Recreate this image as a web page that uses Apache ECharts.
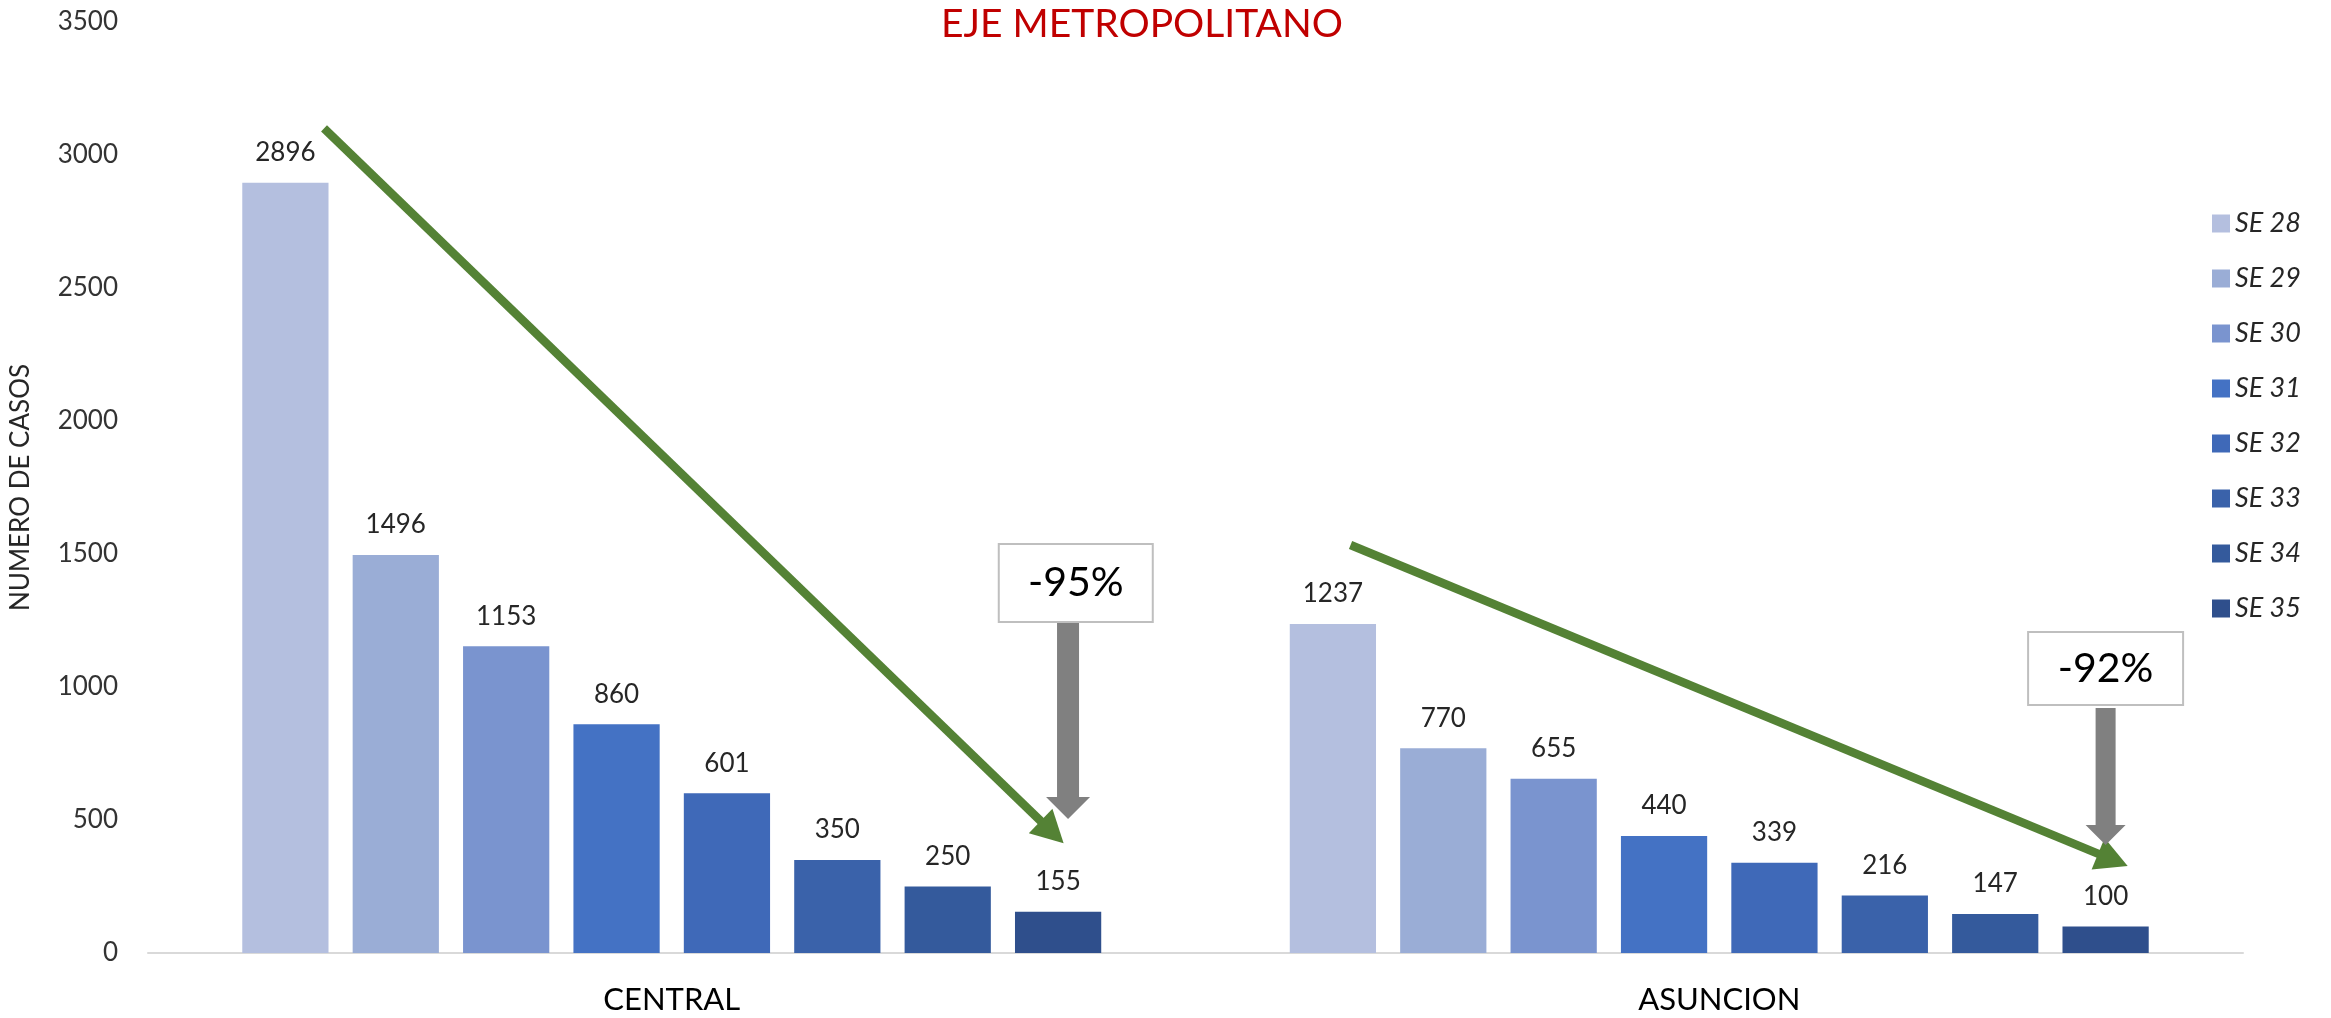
<!DOCTYPE html>
<html><head><meta charset="utf-8">
<script src="https://cdn.jsdelivr.net/npm/echarts@6/dist/echarts.min.js"></script>
<style>html,body{margin:0;padding:0;background:#fff}#c{width:2331px;height:1018px}</style>
</head><body><div id="c"></div>
<script>
// ---- data ----
const categories = ['CENTRAL', 'ASUNCION'];
const seriesNames = ['SE 28', 'SE 29', 'SE 30', 'SE 31', 'SE 32', 'SE 33', 'SE 34', 'SE 35'];
const se28 = [2896, 1237];
const se29 = [1496, 770];
const se30 = [1153, 655];
const se31 = [860, 440];
const se32 = [601, 339];
const se33 = [350, 216];
const se34 = [250, 147];
const se35 = [155, 100];
const seriesValues = [se28, se29, se30, se31, se32, se33, se34, se35];
const yMin = 0, yMax = 3500, yStep = 500;
const chartTitle = 'EJE METROPOLITANO';
const yAxisTitle = 'NUMERO DE CASOS';
const changeLabels = ['-95%', '-92%'];

// ---- styles ----
const colors = ['#B4BFDF', '#9AADD6', '#7A94CF', '#4472C4', '#3F69B8', '#3A62AA', '#345A9C', '#2F4F8C'];
const FONT = 'Lato';
const CAT_GAP = 0.18, BAR_GAP = 0.28;

const chart = echarts.init(document.getElementById('c'), null, {renderer: 'canvas'});

const series = seriesNames.map((name, i) => ({
  name: name,
  type: 'bar',
  data: seriesValues[i],
  itemStyle: {color: colors[i]},
  barGap: (BAR_GAP * 100) + '%',
  barCategoryGap: (CAT_GAP * 100) + '%',
  label: {
    show: true, position: 'top', distance: 17,
    fontFamily: FONT, fontSize: 26, color: '#262626'
  }
}));

chart.setOption({
  animation: false,
  backgroundColor: '#ffffff',
  title: {
    text: chartTitle, left: 1137, top: 0, textAlign: 'center',
    textStyle: {fontFamily: FONT, fontSize: 39, fontWeight: 'normal', color: '#C00000'}
  },
  legend: {
    orient: 'vertical', left: 2207, top: 205,
    itemWidth: 18, itemHeight: 18, itemGap: 28,
    icon: 'rect',
    textStyle: {fontFamily: FONT, fontSize: 27, fontStyle: 'italic', color: '#262626', lineHeight: 27, padding: [0,0,0,0]},
    data: seriesNames
  },
  grid: {left: 147, right: 88, top: 22, bottom: 65, containLabel: false},
  xAxis: {
    type: 'category', data: categories,
    axisLine: {lineStyle: {color: '#D9D9D9', width: 2}},
    axisTick: {show: false},
    axisLabel: {fontFamily: FONT, fontSize: 31, color: '#000000', margin: 31}
  },
  yAxis: {
    type: 'value', min: yMin, max: yMax, interval: yStep,
    name: yAxisTitle, nameLocation: 'middle', nameRotate: 90, nameGap: 114,
    nameTextStyle: {fontFamily: FONT, fontSize: 26, color: '#262626'},
    axisLine: {show: false}, axisTick: {show: false},
    splitLine: {show: false},
    axisLabel: {fontFamily: FONT, fontSize: 26, color: '#333333', margin: 30,
      formatter: v => String(v)}
  },
  series: series
});

// ---- annotations anchored to data space ----
function barX(catIdx, barPos) {
  const c0 = chart.convertToPixel({xAxisIndex: 0}, categories[0]);
  const c1 = chart.convertToPixel({xAxisIndex: 0}, categories[1]);
  const band = c1 - c0;
  const center = chart.convertToPixel({xAxisIndex: 0}, categories[catIdx]);
  const n = seriesNames.length;
  const bw = band * (1 - CAT_GAP) / (n + (n - 1) * BAR_GAP);
  const pitch = bw * (1 + BAR_GAP);
  return center + (barPos - (n - 1) / 2) * pitch;
}
function py(v) { return chart.convertToPixel({yAxisIndex: 0}, v); }

function arrow(x1, y1, x2, y2, width, headLen, headHalf, color) {
  const dx = x2 - x1, dy = y2 - y1;
  const L = Math.sqrt(dx * dx + dy * dy);
  const ux = dx / L, uy = dy / L;
  const bx = x2 - ux * headLen, by = y2 - uy * headLen;
  const nx = -uy, ny = ux;
  return [
    {type: 'line', shape: {x1: x1, y1: y1, x2: bx + ux * 1, y2: by + uy * 1},
     style: {stroke: color, lineWidth: width, lineCap: 'butt'}, z: 100},
    {type: 'polygon', shape: {points: [[x2, y2], [bx + nx * headHalf, by + ny * headHalf], [bx - nx * headHalf, by - ny * headHalf]]},
     style: {fill: color}, z: 100}
  ];
}
function blockArrow(x, yTop, yTip, shaftW, headLen, headHalf, color) {
  const yb = yTip - headLen;
  return {type: 'polygon', z: 100, shape: {points: [
    [x - shaftW / 2, yTop], [x + shaftW / 2, yTop], [x + shaftW / 2, yb], [x + headHalf, yb],
    [x, yTip], [x - headHalf, yb], [x - shaftW / 2, yb]]}, style: {fill: color}};
}
function box(cx, yTop, w, h, text) {
  return [
    {type: 'rect', z: 100, shape: {x: cx - w / 2, y: yTop, width: w, height: h},
     style: {fill: '#ffffff', stroke: '#BFBFBF', lineWidth: 2}},
    {type: 'text', z: 101, x: cx, y: yTop + h / 2,
     style: {text: text, fontFamily: FONT, fontSize: 41, fill: '#000000', align: 'center', verticalAlign: 'middle'}}
  ];
}

const GREEN = '#548235', GREY = '#808080';
let els = [];
// green trend arrows
els = els.concat(arrow(barX(0, 0.35), py(3100), barX(0, 7.05), py(413), 8.5, 32, 17, GREEN));
els = els.concat(arrow(barX(1, 0.16), py(1534), barX(1, 7.2), py(327), 8.5, 32, 17, GREEN));
// grey down arrows with boxes
els.push(blockArrow(barX(0, 7.09), py(1244), py(504), 22, 22, 22, GREY));
els = els.concat(box(barX(0, 7.16), py(1538), 154, 78, changeLabels[0]));
els.push(blockArrow(barX(1, 7.0), py(921), py(406), 20, 20, 20, GREY));
els = els.concat(box(barX(1, 7.0), py(1207), 155, 73, changeLabels[1]));

chart.setOption({graphic: {elements: els}});
</script>
</body></html>
